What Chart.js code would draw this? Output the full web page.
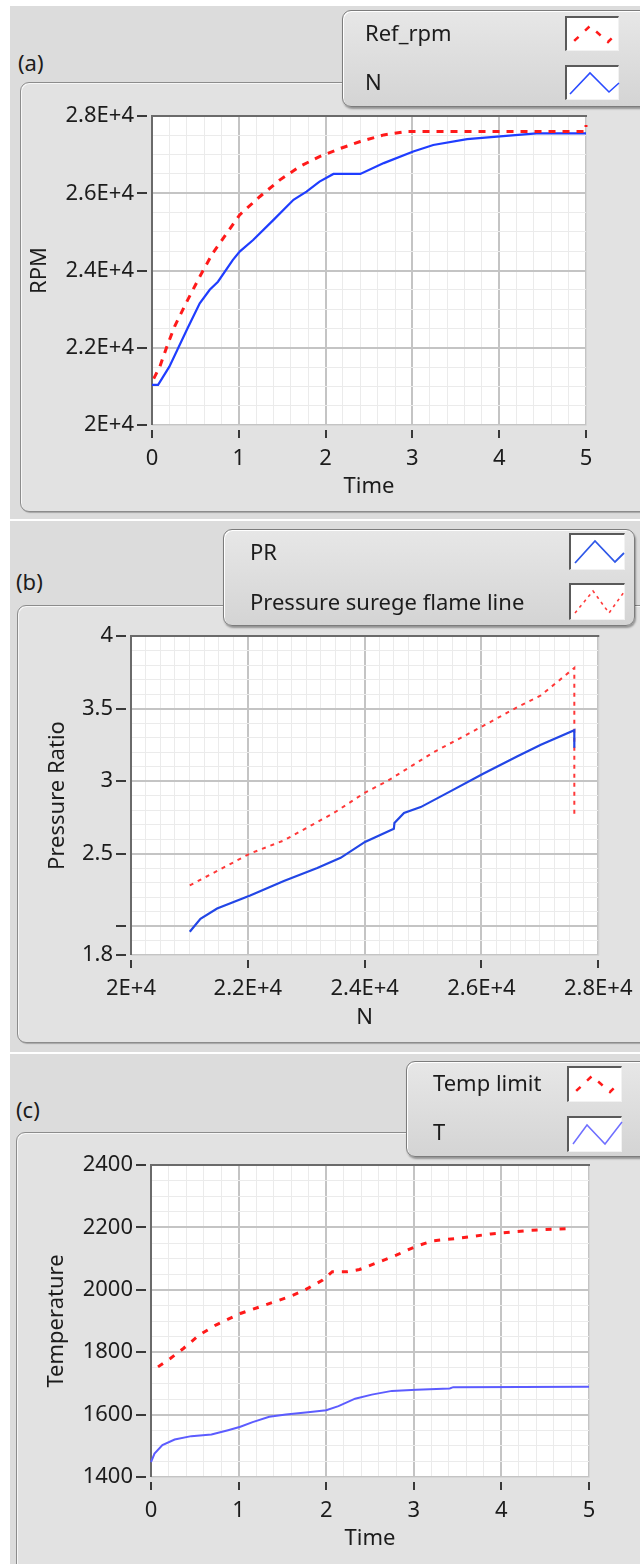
<!DOCTYPE html>
<html>
<head>
<meta charset="utf-8">
<script src="https://cdn.jsdelivr.net/npm/chart.js@4.4.1/dist/chart.umd.min.js"></script>
<style>
  html, body { margin:0; padding:0; }
  body { width:640px; height:1564px; background:#ffffff; position:relative; overflow:hidden;
         font-family:'Noto Sans','DejaVu Sans',sans-serif; color:#1c1c1c; }
  .bg { position:absolute; background:#dcdcdc; }
  .panel { position:absolute; box-sizing:border-box; border:1.5px solid #8c8c8c; border-radius:9px;
           background:#e2e2e2; box-shadow: inset 1px 1px 0 #f7f7f7, 1px 1px 1px rgba(0,0,0,0.25); }
  .tag { position:absolute; font-size:22px; line-height:30px; height:30px; white-space:nowrap; }
  .legend { position:absolute; box-sizing:border-box; border:1px solid #7c7c7c; border-radius:9px;
            background:linear-gradient(#e7e7e7, #d4d4d4);
            box-shadow: inset 1px 1px 0 #ffffff, 1px 2px 2px rgba(0,0,0,0.35); z-index:5; }
  .ltext { position:absolute; font-size:22px; line-height:30px; height:30px; white-space:nowrap; z-index:6; }
  .icon { position:absolute; box-sizing:border-box; background:#ffffff; border-top:2px solid #5a5a5a;
          border-left:2px solid #5a5a5a; border-right:1px solid #f2f2f2; border-bottom:1px solid #f2f2f2; z-index:6; }
  .icon svg { position:absolute; left:0; top:0; }
  .cwrap { position:absolute; z-index:2; }
</style>
</head>
<body>
<!-- gray screenshot regions -->
<div class="bg" style="left:10px;top:6px;width:630px;height:513px"></div>
<div class="bg" style="left:10px;top:521px;width:630px;height:531px"></div>
<div class="bg" style="left:10px;top:1054px;width:630px;height:510px"></div>

<!-- panel frames -->
<div class="panel" style="left:20px;top:82px;width:640px;height:430px"></div>
<div class="panel" style="left:17px;top:605px;width:640px;height:438px"></div>
<div class="panel" style="left:16px;top:1132px;width:640px;height:450px"></div>

<div class="tag" style="left:18px;top:47px">(a)</div>
<div class="tag" style="left:16px;top:566px">(b)</div>
<div class="tag" style="left:16px;top:1094px">(c)</div>

<div class="cwrap" style="left:20px;top:84px;width:620px;height:426px"><canvas id="chartA" width="620" height="426"></canvas></div>
<div class="cwrap" style="left:17px;top:607px;width:623px;height:434px"><canvas id="chartB" width="623" height="434"></canvas></div>
<div class="cwrap" style="left:16px;top:1134px;width:624px;height:430px"><canvas id="chartC" width="624" height="430"></canvas></div>

<!-- legend (a) -->
<div class="legend" style="left:342px;top:10px;width:320px;height:97px"></div>
<div class="ltext" style="left:365px;top:17px">Ref_rpm</div>
<div class="ltext" style="left:365px;top:66px">N</div>
<div class="icon" style="left:565px;top:16px;width:54px;height:35px"><svg width="54" height="35"><polyline points="5,25 23,8 41,24 51,14" fill="none" stroke="#ff1a1a" stroke-width="2.5" stroke-dasharray="6,9" stroke-dashoffset="-3"/></svg></div>
<div class="icon" style="left:565px;top:65px;width:54px;height:35px"><svg width="54" height="35"><polyline points="3,27 23,6 42,25 52,16" fill="none" stroke="#2b4cff" stroke-width="1.6"/></svg></div>

<!-- legend (b) -->
<div class="legend" style="left:223px;top:529px;width:412px;height:97px"></div>
<div class="ltext" style="left:250px;top:536px">PR</div>
<div class="ltext" style="left:250px;top:586px">Pressure surege flame line</div>
<div class="icon" style="left:569px;top:533px;width:56px;height:37px"><svg width="56" height="37"><polyline points="4,28 24,6 44,27 53,18" fill="none" stroke="#2f58e8" stroke-width="1.8"/></svg></div>
<div class="icon" style="left:569px;top:583px;width:56px;height:37px"><svg width="56" height="37"><polyline points="4,28 22,6 38,28 53,7" fill="none" stroke="#ff3b3b" stroke-width="1.6" stroke-dasharray="3,4"/></svg></div>

<!-- legend (c) -->
<div class="legend" style="left:406px;top:1061px;width:260px;height:96px"></div>
<div class="ltext" style="left:433px;top:1067px">Temp limit</div>
<div class="ltext" style="left:433px;top:1116px">T</div>
<div class="icon" style="left:567px;top:1066px;width:55px;height:36px"><svg width="55" height="36"><polyline points="5,25 23,8 41,24 51,14" fill="none" stroke="#ff1a1a" stroke-width="2.5" stroke-dasharray="6,9" stroke-dashoffset="-3"/></svg></div>
<div class="icon" style="left:567px;top:1116px;width:55px;height:36px"><svg width="55" height="36"><polyline points="4,26 18,7 36,26 53,4" fill="none" stroke="#6f6fff" stroke-width="1.5"/></svg></div>

<script>
// ---------------- data ----------------
// (a) RPM vs Time
const refRpmTime   = [0.02, 0.09, 0.165, 0.26, 0.4, 0.55, 0.7, 0.86, 1.01, 1.24, 1.47, 1.7, 1.93, 2.17, 2.4, 2.67, 2.93, 3.5, 4.0, 4.5, 5.0, 5.0];
const refRpmValues = [21200, 21510, 21990, 22550, 23190, 23840, 24450, 24960, 25440, 25910, 26340, 26690, 26950, 27160, 27340, 27510, 27600, 27600, 27600, 27600, 27600, 27770];
const nTime   = [0, 0.07, 0.2, 0.4, 0.55, 0.665, 0.76, 0.93, 1.01, 1.165, 1.4, 1.63, 1.78, 1.93, 2.09, 2.4, 2.67, 3.01, 3.24, 3.63, 4.01, 4.43, 5.0];
const nValues = [21040, 21040, 21510, 22460, 23150, 23500, 23710, 24270, 24490, 24790, 25310, 25830, 26040, 26300, 26500, 26500, 26780, 27080, 27250, 27400, 27470, 27550, 27550];

// (b) Pressure ratio vs N
const prN      = [21006, 21189, 21474, 22040, 22617, 23189, 23589, 24006, 24500, 24510, 24674, 24960, 25474, 26029, 26617, 27017, 27590, 27590];
const prValues = [1.96, 2.05, 2.12, 2.21, 2.31, 2.40, 2.47, 2.58, 2.67, 2.71, 2.78, 2.82, 2.93, 3.05, 3.17, 3.25, 3.35, 3.23];
const surgeN      = [21006, 22040, 22617, 23474, 24006, 24389, 25189, 26029, 26617, 27017, 27590, 27590];
const surgeValues = [2.28, 2.50, 2.59, 2.78, 2.92, 3.00, 3.20, 3.38, 3.51, 3.59, 3.78, 2.77];

// (c) Temperature vs Time
const tempLimitTime   = [0.08, 0.22, 0.37, 0.55, 0.74, 1.02, 1.3, 1.58, 1.74, 1.96, 2.07, 2.24, 2.38, 2.61, 2.8, 3.03, 3.22, 3.5, 3.88, 4.34, 4.81];
const tempLimitValues = [1753, 1780, 1812, 1855, 1887, 1924, 1951, 1978, 1997, 2031, 2058, 2058, 2065, 2090, 2111, 2140, 2157, 2165, 2179, 2191, 2197];
const tTime   = [0, 0.04, 0.13, 0.27, 0.46, 0.69, 0.88, 1.02, 1.16, 1.35, 1.54, 1.82, 2.0, 2.14, 2.33, 2.52, 2.75, 3.03, 3.41, 3.45, 5.0];
const tValues = [1448, 1475, 1502, 1520, 1531, 1536, 1550, 1561, 1576, 1593, 1600, 1608, 1614, 1627, 1651, 1664, 1676, 1680, 1684, 1688, 1689];

// tick labels
const timeTicks      = [0, 1, 2, 3, 4, 5];
const timeTickLabels = ['0', '1', '2', '3', '4', '5'];
const rpmTicks       = [20000, 22000, 24000, 26000, 28000];
const rpmTickLabels  = ['2E+4', '2.2E+4', '2.4E+4', '2.6E+4', '2.8E+4'];
const prTicks        = [1.8, 2, 2.5, 3, 3.5, 4];
const prTickLabels   = ['1.8', '', '2.5', '3', '3.5', '4'];
const tempTicks      = [1400, 1600, 1800, 2000, 2200, 2400];
const tempTickLabels = ['1400', '1600', '1800', '2000', '2200', '2400'];

// ---------------- chart setup ----------------
const FONT = "'Noto Sans', 'DejaVu Sans', sans-serif";
Chart.defaults.font.family = FONT;
Chart.defaults.font.size = 22;
Chart.defaults.color = '#1c1c1c';

function near(a, b) { return Math.abs(a - b) < 1e-6 * Math.max(1, Math.abs(b)); }
function idx(list, v) { return list.findIndex(t => near(t, v)); }
function pts(xs, ys) { return xs.map((x, i) => ({ x: x, y: ys[i] })); }

function axis(o) {
  const horiz = o.pos === 'bottom';
  const isMajor = c => c.tick && idx(o.majors, c.tick.value) >= 0;
  return {
    type: 'linear', position: o.pos, min: o.min, max: o.max,
    ticks: {
      stepSize: o.step, autoSkip: false, maxRotation: 0, maxTicksLimit: 200,
      padding: horiz ? 7.5 : 3, color: '#1c1c1c', font: { size: 22 },
      callback: v => { const i = idx(o.majors, v); return i < 0 ? '' : o.labels[i]; }
    },
    grid: {
      drawTicks: true, tickLength: horiz ? 13 : 15,
      color: c => isMajor(c) ? '#c4c4c4' : '#ebebeb',
      lineWidth: c => isMajor(c) ? 2 : 1,
      tickColor: c => isMajor(c) ? '#3a3a3a' : 'rgba(0,0,0,0)',
      tickWidth: 2,
      tickBorderDash: horiz ? [8, 5] : [10, 5],
      tickBorderDashOffset: horiz ? 8 : 0
    },
    border: { display: false },
    title: { display: true, text: o.title, color: '#1c1c1c', font: { size: 22, lineHeight: 1.2 }, padding: o.titlePad },
    afterFit: s => { if (horiz) { s.height = o.size; } else { s.width = o.size; } }
  };
}

const plotFrame = {
  id: 'plotFrame',
  beforeDraw(chart) {
    const { ctx, chartArea: a } = chart;
    ctx.save();
    ctx.fillStyle = '#ffffff';
    ctx.fillRect(a.left, a.top, a.right - a.left, a.bottom - a.top);
    ctx.restore();
  },
  beforeDatasetsDraw(chart) {
    const { ctx, chartArea: a } = chart;
    ctx.save();
    ctx.lineWidth = 1;
    ctx.strokeStyle = '#d6d6d6';
    ctx.beginPath();
    ctx.moveTo(a.right + 0.5, a.top); ctx.lineTo(a.right + 0.5, a.bottom + 0.5); ctx.lineTo(a.left, a.bottom + 0.5);
    ctx.stroke();
    ctx.lineWidth = 2;
    ctx.strokeStyle = '#6a6a6a';
    ctx.beginPath();
    ctx.moveTo(a.left, a.bottom); ctx.lineTo(a.left, a.top); ctx.lineTo(a.right + 1, a.top);
    ctx.stroke();
    ctx.restore();
  }
};

function lineSet(label, data, color, width, dash) {
  return { label: label, data: data, borderColor: color, backgroundColor: color, borderWidth: width,
           borderDash: dash || [], pointRadius: 0, tension: 0, fill: false, clip: 4 };
}

function makeChart(id, datasets, xAxis, yAxis, pad) {
  return new Chart(document.getElementById(id), {
    type: 'line',
    data: { datasets: datasets },
    options: {
      responsive: false, animation: false, devicePixelRatio: 1, parsing: true,
      layout: { padding: pad },
      plugins: { legend: { display: false }, tooltip: { enabled: false } },
      scales: { x: xAxis, y: yAxis }
    },
    plugins: [plotFrame]
  });
}

// (a)
makeChart('chartA', [
  lineSet('Ref_rpm', pts(refRpmTime, refRpmValues), '#ff1a1a', 3, [7, 7]),
  lineSet('N', pts(nTime, nValues), '#1f3dff', 2.2)
],
  axis({ pos: 'bottom', min: 0, max: 5, step: 0.2, majors: timeTicks, labels: timeTickLabels, title: 'Time', titlePad: { bottom: 9.8 }, size: 85 }),
  axis({ pos: 'left', min: 20000, max: 28000, step: 500, majors: rpmTicks, labels: rpmTickLabels, title: 'RPM', titlePad: { top: 6.8 }, size: 132 }),
  { top: 32, right: 54, left: 0, bottom: 0 });

// (b)
makeChart('chartB', [
  lineSet('PR', pts(prN, prValues), '#2246e6', 2.2),
  lineSet('Pressure surege flame line', pts(surgeN, surgeValues), '#ff3838', 2, [4, 5])
],
  axis({ pos: 'bottom', min: 20000, max: 28000, step: 250, majors: rpmTicks, labels: rpmTickLabels, title: 'N', titlePad: { bottom: 9.8 }, size: 86 }),
  axis({ pos: 'left', min: 1.8, max: 4, step: 0.1, majors: prTicks, labels: prTickLabels, title: 'Pressure Ratio', titlePad: { top: 27.8 }, size: 114 }),
  { top: 29, right: 41, left: 0, bottom: 0 });

// (c)
makeChart('chartC', [
  lineSet('Temp limit', pts(tempLimitTime, tempLimitValues), '#ff1a1a', 3, [6, 8]),
  lineSet('T', pts(tTime, tValues), '#5c5cff', 2)
],
  axis({ pos: 'bottom', min: 0, max: 5, step: 0.2, majors: timeTicks, labels: timeTickLabels, title: 'Time', titlePad: { bottom: 11.8 }, size: 87 }),
  axis({ pos: 'left', min: 1400, max: 2400, step: 50, majors: tempTicks, labels: tempTickLabels, title: 'Temperature', titlePad: { top: 27.8 }, size: 135 }),
  { top: 31, right: 51, left: 0, bottom: 0 });
</script>
</body>
</html>
